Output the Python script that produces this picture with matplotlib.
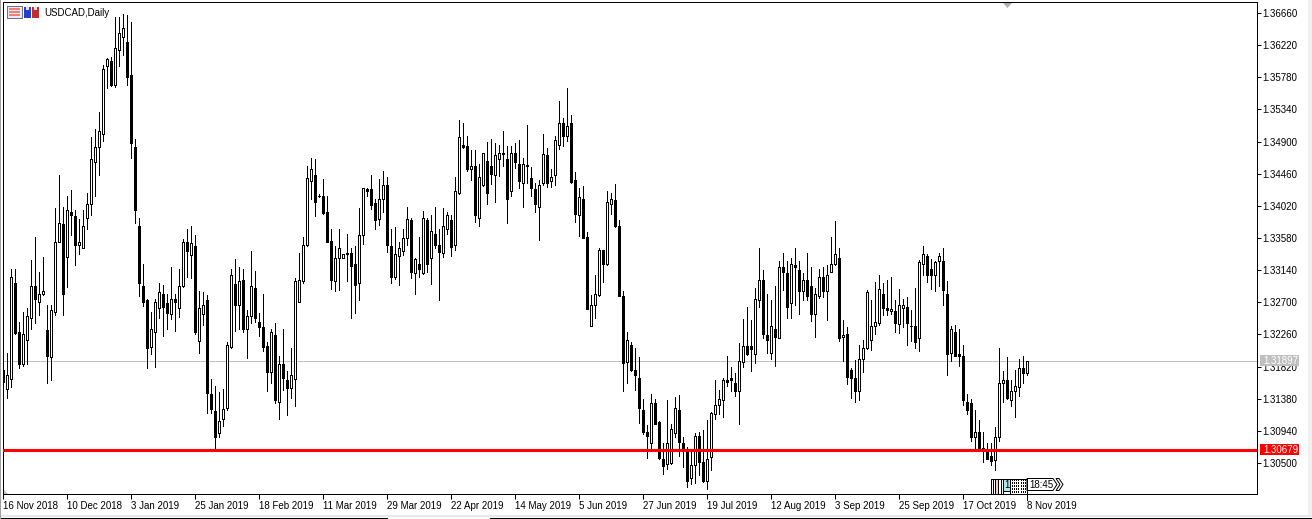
#USDCAD daily candles with the support line, MT4 look
import matplotlib
matplotlib.use("Agg")
import matplotlib.pyplot as plt
from matplotlib.patches import Rectangle, Polygon
import numpy as np

# prices in units of 0.0001, one entry per daily bar
opens = [13177,13151,13165,13296,13229,13185,13219,13248,13292,13270,
13281,13232,13195,13257,13353,13377,13332,13394,13388,13349,
13345,13386,13405,13462,13483,13501,13593,13600,13568,13615,
13633,13626,13581,13483,13375,13293,13273,13209,13229,13262,
13281,13269,13254,13274,13262,13293,13352,13335,13347,13217,
13254,13273,13145,13121,13091,13110,13125,13209,13295,13266,
13301,13234,13251,13289,13243,13236,13210,13174,13225,13133,
13185,13164,13153,13165,13271,13299,13348,13436,13444,13416,
13415,13393,13354,13299,13330,13330,13337,13338,13322,13296,
13362,13425,13425,13406,13384,13411,13430,13347,13304,13333,
13340,13358,13382,13310,13322,13310,13382,13330,13364,13348,
13338,13371,13382,13348,13419,13485,13484,13452,13456,13386,
13430,13463,13457,13444,13466,13473,13466,13422,13474,13460,
13434,13458,13440,13425,13400,13434,13471,13436,13444,13485,
13515,13497,13516,13438,13390,13412,13360,13238,13267,13280,
13341,13323,13405,13410,13375,13278,13188,13211,13178,13167,
13123,13093,13078,13132,13106,13055,13048,13050,13091,13123,
13078,13066,13030,13047,13087,13051,13026,13058,13117,13130,
13136,13163,13166,13159,13149,13188,13210,13210,13199,13273,
13301,13225,13200,13233,13221,13318,13310,13269,13321,13314,
13286,13300,13292,13254,13279,13304,13286,13312,13322,13331,
13222,13226,13177,13166,13148,13192,13207,13218,13238,13241,
13282,13262,13258,13258,13240,13262,13264,13238,13238,13221,
13322,13334,13315,13307,13326,13327,13281,13200,13230,13199,
13197,13134,13132,13086,13092,13070,13065,13059,13054,13086,
13159,13163,13136,13148,13154,13180,13173]
closes = [13161,13170,13304,13228,13185,13227,13251,13292,13274,13281,
13286,13196,13260,13352,13379,13282,13397,13389,13349,13352,
13374,13405,13466,13483,13505,13590,13603,13568,13618,13638,
13646,13579,13488,13397,13297,13271,13207,13234,13270,13284,
13264,13255,13275,13271,13293,13353,13340,13351,13229,13262,
13267,13146,13124,13085,13108,13124,13211,13307,13267,13299,
13233,13251,13293,13249,13236,13209,13174,13229,13136,13186,
13167,13153,13170,13299,13300,13349,13440,13453,13407,13415,
13392,13353,13300,13330,13344,13336,13336,13320,13294,13362,
13427,13423,13403,13382,13411,13430,13348,13305,13336,13344,
13358,13384,13312,13329,13315,13385,13322,13367,13349,13339,
13374,13389,13346,13422,13496,13483,13453,13456,13389,13441,
13474,13419,13445,13471,13475,13475,13412,13475,13462,13436,
13459,13457,13427,13404,13431,13473,13433,13441,13492,13515,
13498,13511,13435,13391,13414,13358,13261,13267,13281,13341,
13323,13408,13412,13374,13279,13187,13218,13177,13170,13125,
13093,13087,13132,13104,13057,13046,13077,13096,13125,13079,
13066,13026,13047,13087,13052,13026,13055,13118,13130,13137,
13163,13161,13163,13149,13189,13210,13199,13206,13275,13301,
13226,13219,13237,13222,13318,13312,13264,13322,13318,13286,
13301,13279,13254,13281,13305,13286,13308,13323,13336,13221,
13225,13168,13167,13149,13192,13208,13284,13238,13243,13288,
13262,13260,13261,13241,13267,13267,13241,13237,13216,13325,
13336,13307,13307,13325,13333,13287,13199,13233,13197,13197,
13136,13123,13086,13092,13069,13067,13056,13053,13086,13159,
13163,13139,13149,13155,13180,13173,13189]
highs = [13190,13200,13316,13316,13243,13257,13262,13328,13359,13311,
13332,13266,13266,13399,13444,13401,13415,13424,13396,13384,
13396,13419,13496,13507,13530,13595,13605,13606,13660,13660,
13664,13663,13654,13494,13386,13322,13275,13257,13275,13296,
13294,13282,13318,13282,13316,13357,13370,13374,13362,13285,
13284,13280,13165,13156,13147,13152,13215,13316,13329,13319,
13315,13260,13340,13313,13255,13281,13216,13233,13241,13197,
13234,13176,13207,13303,13337,13359,13457,13467,13466,13418,
13439,13416,13370,13347,13370,13336,13364,13344,13347,13399,
13427,13427,13444,13411,13439,13450,13441,13370,13373,13352,
13371,13401,13386,13330,13359,13395,13386,13390,13401,13371,
13399,13394,13390,13441,13520,13515,13498,13479,13479,13460,
13475,13489,13493,13488,13485,13505,13484,13484,13488,13492,
13468,13513,13455,13433,13437,13501,13481,13452,13498,13546,
13522,13563,13526,13448,13427,13429,13366,13280,13307,13344,
13342,13422,13420,13432,13383,13285,13229,13216,13207,13195,
13137,13102,13144,13137,13107,13078,13136,13104,13140,13143,
13085,13072,13066,13091,13093,13095,13109,13120,13164,13150,
13166,13197,13181,13173,13214,13247,13264,13246,13290,13344,
13314,13282,13273,13292,13326,13338,13326,13330,13345,13326,
13310,13337,13318,13289,13316,13318,13321,13360,13381,13344,
13246,13236,13180,13191,13212,13219,13287,13273,13298,13308,
13296,13301,13305,13273,13288,13275,13277,13259,13289,13328,
13347,13336,13329,13326,13337,13344,13299,13238,13239,13233,
13211,13145,13137,13122,13109,13093,13077,13077,13099,13207,
13176,13195,13164,13178,13192,13196,13189]
lows = [13150,13139,13154,13227,13180,13183,13185,13233,13241,13252,
13280,13159,13163,13252,13352,13252,13291,13362,13321,13336,
13345,13370,13389,13415,13444,13491,13564,13566,13565,13594,
13608,13567,13468,13379,13278,13265,13180,13199,13182,13249,
13224,13233,13247,13231,13250,13291,13304,13303,13227,13201,
13239,13118,13118,13069,13085,13101,13123,13207,13231,13234,
13230,13194,13241,13243,13224,13204,13149,13160,13132,13110,
13150,13116,13139,13128,13270,13297,13347,13411,13388,13414,
13391,13352,13288,13286,13287,13330,13299,13249,13256,13273,
13350,13415,13398,13371,13376,13394,13339,13297,13302,13294,
13335,13348,13303,13282,13305,13309,13312,13295,13345,13273,
13332,13364,13334,13342,13418,13481,13450,13437,13380,13375,
13429,13405,13432,13408,13443,13457,13379,13415,13454,13426,
13400,13433,13415,13394,13355,13430,13428,13428,13431,13480,
13484,13491,13434,13380,13361,13358,13261,13238,13249,13278,
13298,13321,13391,13373,13278,13149,13160,13176,13150,13105,
13090,13057,13069,13103,13055,13035,13042,13048,13085,13060,
13045,13017,13021,13022,13034,13024,13015,13040,13110,13117,
13113,13155,13148,13142,13103,13181,13198,13176,13187,13263,
13221,13200,13193,13183,13221,13287,13249,13249,13266,13254,
13273,13273,13244,13223,13276,13277,13246,13311,13321,13217,
13190,13158,13139,13133,13136,13175,13206,13205,13227,13239,
13253,13253,13254,13229,13228,13236,13211,13217,13208,13204,
13307,13298,13288,13285,13292,13267,13170,13190,13196,13183,
13130,13117,13080,13069,13068,13052,13055,13047,13041,13080,
13134,13137,13128,13113,13142,13159,13171]

date_labels = ["16 Nov 2018","10 Dec 2018","3 Jan 2019","25 Jan 2019","18 Feb 2019",
               "11 Mar 2019","29 Mar 2019","22 Apr 2019","14 May 2019","5 Jun 2019",
               "27 Jun 2019","19 Jul 2019","12 Aug 2019","3 Sep 2019","25 Sep 2019",
               "17 Oct 2019","8 Nov 2019"]
price_ticks = [1.30500,1.30940,1.31380,1.31820,1.32260,1.32700,1.33140,1.33580,
               1.34020,1.34460,1.34900,1.35340,1.35780,1.36220,1.36660]
last_price = 1.31897
support_price = 1.30679

W, H = 1312, 519
FS = 7.0
plt.rcParams['font.family'] = ['Liberation Sans', 'DejaVu Sans']
plt.rcParams['font.size'] = FS

o = np.array(opens) / 10000.0
c = np.array(closes) / 10000.0
hi = np.array(highs) / 10000.0
lo = np.array(lows) / 10000.0
x = np.arange(len(o))
up = c >= o

fig = plt.figure(figsize=(W / 100, H / 100), dpi=100, facecolor="white")
# plot area runs x 3..1257 and y 2..494 in pixels
ax = fig.add_axes([3 / W, 1 - 494 / H, 1254 / W, 492 / H])
ax.set_xlim(-0.075, 313.425)
ax.set_ylim(1.30076, 1.36811)

ax.vlines(x, lo, hi, color="black", lw=0.72, zorder=2, antialiased=False)
ax.bar(x[up], (c - o)[up], bottom=o[up], width=0.5, facecolor="white", edgecolor="black",
       linewidth=0.72, zorder=3, antialiased=False)
ax.bar(x[~up], (o - c)[~up], bottom=c[~up], width=0.5, facecolor="black", edgecolor="black",
       linewidth=0.72, zorder=3, antialiased=False)

ax.axhline(last_price, color="#c0c0c0", lw=0.72, zorder=1)
ax.axhline(support_price, color="#ff0000", lw=2.2, zorder=4)

ax.yaxis.tick_right()
ax.set_yticks(price_ticks)
ax.set_yticklabels(["%.5f" % p for p in price_ticks])
ax.set_xticks(x[::16])
ax.set_xticklabels(date_labels, ha="left")
ax.tick_params(axis="y", direction="out", length=2.9, width=0.72, pad=1.2, labelsize=FS)
ax.tick_params(axis="x", direction="out", length=3.6, width=0.72, pad=1.2, labelsize=FS)
for s in ax.spines.values():
    s.set_linewidth(0.72)

# price tags on the right axis
tr = ax.get_yaxis_transform()
for price, col in ((last_price, "#c0c0c0"), (support_price, "#ff0000")):
    ax.add_patch(Rectangle((1.0024, price - 0.00075), 0.0311, 0.0015, transform=tr, facecolor=col,
                           edgecolor="none", clip_on=False, zorder=6))
    ax.text(1.0049, price, "%.5f" % price, transform=tr, color="white", va="center", ha="left",
            zorder=7, clip_on=False)

# overlay in pixel units for the terminal chrome
ov = fig.add_axes([0, 0, 1, 1], facecolor="none")
ov.set_xlim(0, W)
ov.set_ylim(H, 0)
ov.axis("off")

def box(x0, y0, w, h, fc="none", ec="none", lw=0.72):
    ov.add_patch(Rectangle((x0, y0), w, h, facecolor=fc, edgecolor=ec, linewidth=lw, antialiased=False))

ov.text(44, 12.5, "USDCAD,Daily", va="center", ha="left", color="black", fontsize=FS)

# window edges
box(1308, 0, 4, 515, fc="#f0f0f0")
box(0, 515, W, 2, fc="#e8e8e8")
box(0, 518, 388, 1, fc="black")
box(490, 518, W - 490, 1, fc="black")
box(0, 0, 1, 519, fc="#a0a0a0")

# toolbar icons
box(7, 6, 15, 12, fc="#e8e8f8", ec="#707080")
for yy in (8, 11, 14):
    box(9, yy, 11, 2, fc="#f08070")
box(24, 7, 7, 11, fc="#2040d0")
box(32, 7, 7, 11, fc="#c03028")
box(26, 7, 3, 3, fc="#e0e0e0")
box(34, 7, 3, 3, fc="#e0e0e0")

# small markers
ov.add_patch(Polygon([(1003, 3), (1012, 3), (1007.5, 8)], facecolor="#b0b0b0", edgecolor="none"))
ov.add_patch(Polygon([(3.5, 490), (3.5, 494), (8, 494)], facecolor="#c0c0c0", edgecolor="none"))

# period separator tags near the last bars
box(995, 479, 3, 15, fc="#ffc8d0")
box(1003, 479, 7, 12, fc="#b0e8f0", ec="black")
ov.hlines(478.5, 991, 1027, color="black", lw=0.72, antialiased=False)
ov.vlines([991, 993, 995, 998, 1001, 1003, 1010], 478.5, 494, color="black", lw=0.72, antialiased=False)
ov.vlines([1012, 1014, 1016, 1018, 1021, 1023, 1025], 478.5, 494, color="black", lw=0.72,
          linestyle=(0, (1.4, 1.4)), antialiased=False)
ov.vlines(1027, 478.5, 500, color="black", lw=0.72, antialiased=False)
ov.text(1004.5, 485.5, "1", va="center", ha="left", fontsize=FS)
ov.add_patch(Polygon([(1056, 478.5), (1059, 478.5), (1063, 484.5), (1059, 490.5), (1056, 490.5), (1060, 484.5)],
                     facecolor="white", edgecolor="black", linewidth=0.72))
ov.add_patch(Polygon([(1027, 478.5), (1053, 478.5), (1057, 484.5), (1053, 490.5), (1027, 490.5)],
                     facecolor="white", edgecolor="black", linewidth=0.72))
ov.text(1029, 485, "18:45", va="center", ha="left", fontsize=FS)

fig.savefig("out.png", dpi=100, facecolor="white")
